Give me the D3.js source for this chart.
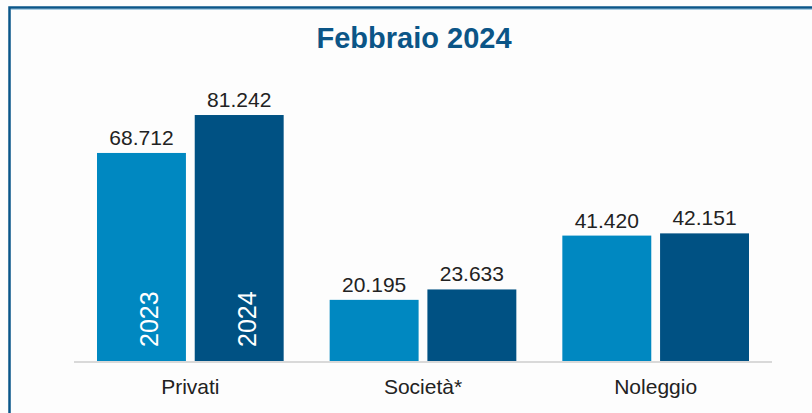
<!DOCTYPE html>
<html>
<head>
<meta charset="utf-8">
<script src="https://cdn.jsdelivr.net/npm/d3@7"></script>
<style>
  body { margin: 0; background: #fdfdfd; }
  svg { display: block; font-family: "Liberation Sans", Arial, sans-serif; }
</style>
</head>
<body>
<div id="chart"></div>
<script>
// categories and series
const categories = ["Privati", "Società*", "Noleggio"];
const years = ["2023", "2024"];
const values2023 = [68712, 20195, 41420];
const values2024 = [81242, 23633, 42151];
const title = "Febbraio 2024";

const W = 812, H = 413;
const colors = {"2023": "#0088c1", "2024": "#005183"};

let svg = d3.select("#chart").append("svg")
  .attr("width", W)
  .attr("height", H);

// frame (top + left edge visible)
svg.append("rect")
  .attr("x", 9.5).attr("y", 7.5)
  .attr("width", W + 10).attr("height", H + 10)
  .attr("fill", "#fdfdfd")
  .attr("stroke", "#0a5689")
  .attr("stroke-width", 2.5);
svg.append("line")
  .attr("x1", 11).attr("x2", W)
  .attr("y1", 9.5).attr("y2", 9.5)
  .attr("stroke", "#a9cde3")
  .attr("stroke-width", 1);

// title
svg.append("text")
  .attr("x", 414).attr("y", 48)
  .attr("text-anchor", "middle")
  .attr("font-size", 29)
  .attr("font-weight", "bold")
  .attr("fill", "#0b5587")
  .text(title);

let data = categories.map((c, i) => ({
  cat: c,
  vals: [{year: "2023", v: values2023[i]}, {year: "2024", v: values2024[i]}]
}));

// scales
let x0 = d3.scaleBand().domain(categories).range([74, 772]);
let x1 = d3.scaleBand().domain(years)
  .range([23, x0.bandwidth() - 23])
  .paddingInner(0.09);
let y = d3.scaleLinear().domain([0, 90000]).range([361, 88.5]);

// baseline
svg.append("line")
  .attr("x1", 74).attr("x2", 772)
  .attr("y1", y(0) + 1).attr("y2", y(0) + 1)
  .attr("stroke", "#d9d9d9")
  .attr("stroke-width", 2);

let groups = svg.selectAll(".grp")
  .data(data)
  .enter().append("g")
  .attr("class", "grp")
  .attr("transform", d => "translate(" + x0(d.cat) + ",0)");

groups.selectAll("rect")
  .data(d => d.vals)
  .enter().append("rect")
  .attr("x", d => x1(d.year))
  .attr("y", d => y(d.v))
  .attr("width", x1.bandwidth())
  .attr("height", d => y(0) - y(d.v))
  .attr("fill", d => colors[d.year]);

// value labels
const fmt = v => d3.format(",")(v).replace(/,/g, ".");
groups.selectAll(".val")
  .data(d => d.vals)
  .enter().append("text")
  .attr("class", "val")
  .attr("x", d => x1(d.year) + x1.bandwidth() / 2)
  .attr("y", d => y(d.v) - 8)
  .attr("text-anchor", "middle")
  .attr("font-size", 21)
  .attr("fill", "#222")
  .text(d => fmt(d.v));

// year labels inside first group's bars
groups.filter((d, i) => i === 0).selectAll(".yr")
  .data(d => d.vals)
  .enter().append("text")
  .attr("class", "yr")
  .attr("transform", d => "translate(" + (x1(d.year) + x1.bandwidth() / 2) + "," + (y(0) - 14) + ") rotate(-90)")
  .attr("dy", "0.68em")
  .attr("font-size", 25)
  .attr("fill", "#fff")
  .text(d => d.year);

// category labels
svg.selectAll(".cat")
  .data(categories)
  .enter().append("text")
  .attr("class", "cat")
  .attr("x", d => x0(d) + x0.bandwidth() / 2)
  .attr("y", 394)
  .attr("text-anchor", "middle")
  .attr("font-size", 21)
  .attr("fill", "#222")
  .text(d => d);
</script>
</body>
</html>
